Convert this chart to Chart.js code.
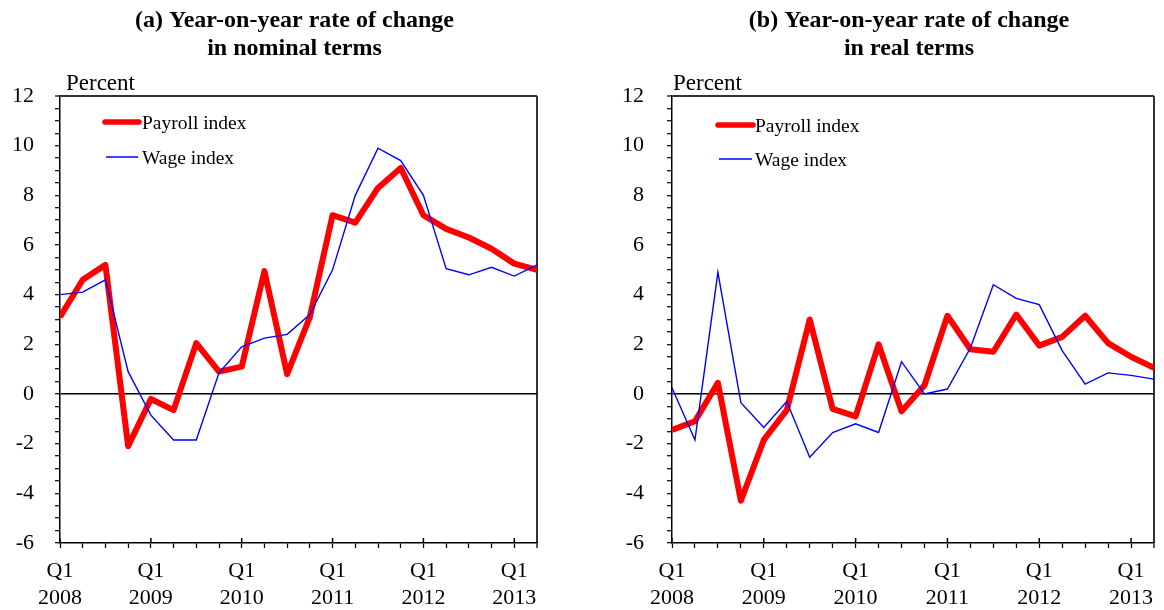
<!DOCTYPE html>
<html>
<head>
<meta charset="utf-8">
<title>Payroll and wage index, year-on-year rate of change</title>
<script src="https://cdn.jsdelivr.net/npm/chart.js@4.4.1/dist/chart.umd.min.js"></script>
<style>
  html, body { margin: 0; padding: 0; background: #fff; }
  #wrap { position: relative; width: 1164px; height: 610px; }
  canvas { position: absolute; top: 0; }
  #nominal { left: 0; }
  #real { left: 582px; }
</style>
</head>
<body>
<div id="wrap">
  <canvas id="nominal" width="582" height="610"></canvas>
  <canvas id="real" width="582" height="610"></canvas>
</div>
<script>
/* Quarterly observations, Q1 2008 .. Q2 2013 */
const quarters = [
  'Q1 2008', 'Q2 2008', 'Q3 2008', 'Q4 2008',
  'Q1 2009', 'Q2 2009', 'Q3 2009', 'Q4 2009',
  'Q1 2010', 'Q2 2010', 'Q3 2010', 'Q4 2010',
  'Q1 2011', 'Q2 2011', 'Q3 2011', 'Q4 2011',
  'Q1 2012', 'Q2 2012', 'Q3 2012', 'Q4 2012',
  'Q1 2013', 'Q2 2013'
];

/* (a) nominal terms, percent */
const nominalPayroll = [3.1, 4.6, 5.2, -2.1, -0.2, -0.65, 2.05, 0.9, 1.1, 4.95, 0.8,
                        3.1, 7.2, 6.9, 8.3, 9.1, 7.2, 6.65, 6.3, 5.85, 5.25, 5.0];
const nominalWage    = [4.0, 4.1, 4.6, 0.9, -0.85, -1.85, -1.85, 0.85, 1.9, 2.25, 2.4,
                        3.2, 5.0, 8.0, 9.9, 9.4, 8.0, 5.05, 4.8, 5.1, 4.75, 5.2];

/* (b) real terms, percent */
const realPayroll = [-1.45, -1.1, 0.45, -4.3, -1.85, -0.65, 3.0, -0.6, -0.9, 2.0, -0.7,
                     0.35, 3.15, 1.8, 1.7, 3.2, 1.95, 2.3, 3.15, 2.05, 1.5, 1.05];
const realWage    = [0.25, -1.85, 4.9, -0.35, -1.35, -0.3, -2.55, -1.55, -1.2, -1.55, 1.3,
                     0.0, 0.2, 1.85, 4.4, 3.85, 3.6, 1.75, 0.4, 0.85, 0.75, 0.6];

/* labelled y ticks; minor ticks fall every 0.5 between them */
const yLabels = [-6, -4, -2, 0, 2, 4, 6, 8, 10, 12];

const SERIF = '"Liberation Serif", "Times New Roman", serif';
const RED = '#ff0000';
const BLUE = '#0000ff';

/** Titles, the "Percent" unit label and the in-plot legend. */
const panelText = {
  id: 'panelText',
  afterDraw(chart, args, opts) {
    const { ctx, chartArea } = chart;
    ctx.save();
    ctx.fillStyle = '#000';
    ctx.textBaseline = 'alphabetic';

    // two-line bold title centred over the plot
    ctx.font = 'bold 24px ' + SERIF;
    ctx.textAlign = 'center';
    const cx = (chartArea.left + chartArea.right) / 2 + opts.titleDx;
    ctx.fillText(opts.title[0], cx, 27);
    ctx.fillText(opts.title[1], cx, 55);

    // unit label above the y axis
    ctx.textAlign = 'left';
    ctx.font = '23px ' + SERIF;
    ctx.fillText('Percent', chartArea.left + opts.percentDx, 90);

    // legend
    const lg = opts.legend;
    const rows = [
      { text: 'Payroll index', color: RED, width: 5.5, cap: 'round', y: lg.y1 },
      { text: 'Wage index', color: BLUE, width: 1.5, cap: 'butt', y: lg.y2 }
    ];
    ctx.font = '19.5px ' + SERIF;
    rows.forEach((r, i) => {
      ctx.beginPath();
      ctx.strokeStyle = r.color;
      ctx.lineWidth = r.width;
      ctx.lineCap = r.cap;
      const inset = i === 0 ? 0 : 1;
      ctx.moveTo(chartArea.left + lg.x0 + inset, chartArea.top + r.y);
      ctx.lineTo(chartArea.left + lg.x1 - inset, chartArea.top + r.y);
      ctx.stroke();
      ctx.fillText(r.text, chartArea.left + lg.tx, chartArea.top + r.y + 7);
    });
    ctx.restore();
  }
};

/** Q1 tick marks also reach a little way up into the plot. */
const quarterTicks = {
  id: 'quarterTicks',
  afterDraw(chart) {
    const { ctx, chartArea } = chart;
    const xs = chart.scales.x;
    ctx.save();
    ctx.strokeStyle = '#000';
    ctx.lineWidth = 1.5;
    quarters.forEach((q, i) => {
      if (!q.startsWith('Q1')) return;
      const px = xs.getPixelForValue(i);
      ctx.beginPath();
      ctx.moveTo(px, chartArea.bottom);
      ctx.lineTo(px, chartArea.bottom - 5);
      ctx.stroke();
    });
    ctx.restore();
  }
};

function makePanel(canvasId, payroll, wage, cfg) {
  const ctx = document.getElementById(canvasId).getContext('2d');
  const last = quarters.length - 1;

  return new Chart(ctx, {
    type: 'line',
    data: {
      labels: quarters,
      datasets: [
        {
          label: 'Wage index',
          data: wage,
          borderColor: BLUE,
          borderWidth: 1.4,
          pointRadius: 0,
          tension: 0,
          clip: 0,
          order: 0
        },
        {
          label: 'Payroll index',
          data: payroll,
          borderColor: RED,
          borderWidth: 6,
          borderJoinStyle: 'round',
          pointRadius: 0,
          tension: 0,
          clip: 0,
          order: 1
        }
      ]
    },
    options: {
      responsive: false,
      animation: false,
      events: [],
      layout: { padding: { top: 96, right: cfg.padRight, left: 0, bottom: 0 } },
      plugins: {
        legend: { display: false },
        tooltip: { enabled: false },
        panelText: {
          title: cfg.title,
          titleDx: -4,
          percentDx: cfg.percentDx,
          legend: cfg.legend
        }
      },
      scales: {
        x: {
          type: 'category',
          offset: false,
          border: { color: '#000', width: 1.5 },
          grid: {
            offset: false,
            drawOnChartArea: true,
            color: (c) => c.index === last ? '#333' : 'rgba(0,0,0,0)',
            lineWidth: (c) => c.index === last ? 2 : 1,
            tickColor: '#000',
            tickLength: 5,
            tickWidth: 1.3
          },
          ticks: {
            autoSkip: false,
            maxRotation: 0,
            minRotation: 0,
            padding: 10,
            color: '#000',
            font: { family: SERIF, size: 22, lineHeight: 1.23 },
            callback: (val, i) => {
              const [q, year] = quarters[i].split(' ');
              return q === 'Q1' ? [q, year] : '';
            }
          },
          afterFit: (scale) => { scale.height = 67; }
        },
        y: {
          min: -6,
          max: 12,
          border: { color: '#000', width: 1.5 },
          grid: {
            color: (c) => {
              if (c.tick.value === 0) return '#000';
              if (c.tick.value === 12) return '#333';
              return 'rgba(0,0,0,0)';
            },
            lineWidth: (c) => c.tick.value === 12 ? 2 : 1.4,
            tickColor: '#000',
            tickLength: 5,
            tickWidth: 1.2
          },
          ticks: {
            stepSize: 0.5,
            autoSkip: false,
            padding: cfg.labelPad,
            color: '#000',
            font: { family: SERIF, size: 22 },
            callback: (val) => yLabels.includes(val) ? String(val) : ''
          },
          afterFit: (scale) => { scale.width = cfg.axisWidth; }
        }
      }
    },
    plugins: [panelText, quarterTicks]
  });
}

makePanel('nominal', nominalPayroll, nominalWage, {
  title: ['(a) Year-on-year rate of change', 'in nominal terms'],
  axisWidth: 60,
  padRight: 45,
  labelPad: 21,
  percentDx: 6,
  legend: { x0: 45, x1: 79, tx: 82, y1: 26, y2: 61 }
});

makePanel('real', realPayroll, realWage, {
  title: ['(b) Year-on-year rate of change', 'in real terms'],
  axisWidth: 90,
  padRight: 7,
  labelPad: 23,
  percentDx: 1,
  legend: { x0: 46, x1: 81, tx: 83, y1: 29, y2: 63 }
});
</script>
</body>
</html>
